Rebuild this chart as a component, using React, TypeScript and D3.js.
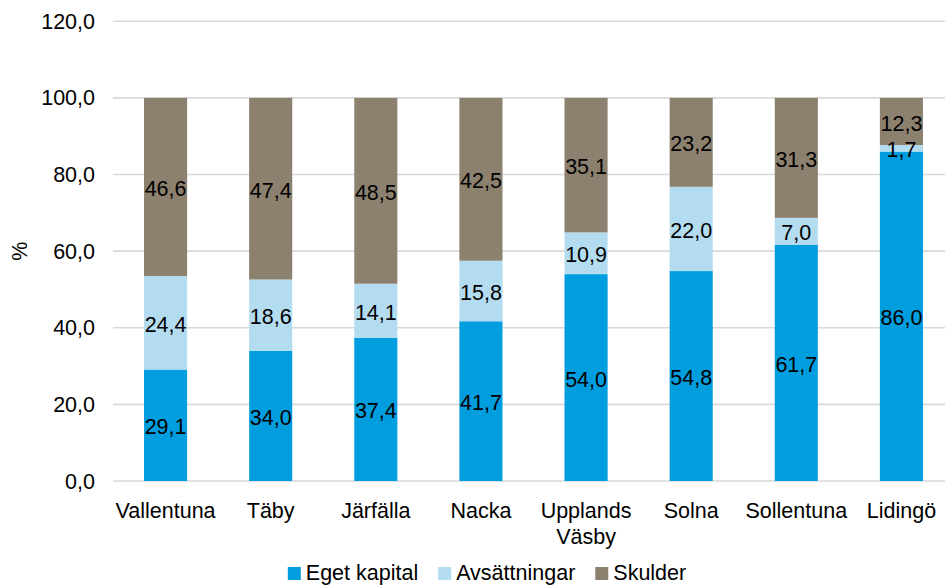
import React, { useEffect, useRef } from "react";
import * as d3 from "d3";

const categories = ["Vallentuna", "Täby", "Järfälla", "Nacka", "Upplands Väsby", "Solna", "Sollentuna", "Lidingö"];
const egetKapital = [29.1, 34.0, 37.4, 41.7, 54.0, 54.8, 61.7, 86.0];
const avsattningar = [24.4, 18.6, 14.1, 15.8, 10.9, 22.0, 7.0, 1.7];
const skulder = [46.6, 47.4, 48.5, 42.5, 35.1, 23.2, 31.3, 12.3];
const seriesNames = ["Eget kapital", "Avsättningar", "Skulder"];
const seriesColors = ["#009ddf", "#b4dcf0", "#8c806f"];
const yTicks = [0, 20, 40, 60, 80, 100, 120];

const W = 945;
const H = 585;
const FONT = "'Liberation Sans', Arial, sans-serif";
const FS = 21.5;

export default function App() {
  const ref = useRef<SVGSVGElement | null>(null);

  useEffect(() => {
    const svg = d3.select(ref.current);
    svg.selectAll("*").remove();

    const x = d3.scaleBand<string>().domain(categories).range([113, 954]).paddingInner(0.59).paddingOuter(0.295);
    const y = d3.scaleLinear().domain([0, 120]).range([481, 21.3]);

    const fmt = (v: number) => v.toFixed(1).replace(".", ",");

    // gridlines
    svg.append("g").selectAll("line").data(yTicks).join("line")
      .attr("x1", 113).attr("x2", W)
      .attr("y1", d => y(d)).attr("y2", d => y(d))
      .attr("stroke", "#d9d9d9").attr("stroke-width", 1.6);

    // y tick labels
    svg.append("g").selectAll("text").data(yTicks).join("text")
      .attr("x", 95).attr("y", d => y(d)).attr("dy", "0.35em")
      .attr("text-anchor", "end").attr("font-family", FONT).attr("font-size", FS)
      .attr("fill", "#000").text(d => fmt(d));

    // y axis title
    svg.append("text")
      .attr("transform", `translate(27,${(y(0) + y(120)) / 2}) rotate(-90)`)
      .attr("text-anchor", "middle").attr("font-family", FONT).attr("font-size", FS)
      .text("%");

    const rows = categories.map((c, i) => ({
      cat: c,
      s0: egetKapital[i],
      s1: avsattningar[i],
      s2: skulder[i],
    }));
    const stack = d3.stack<any>().keys(["s0", "s1", "s2"]);
    const stacked = stack(rows);

    const layers = svg.append("g").selectAll("g").data(stacked).join("g")
      .attr("fill", (_d, i) => seriesColors[i]);
    layers.selectAll("rect").data(d => d).join("rect")
      .attr("x", (d: any) => x(d.data.cat)!)
      .attr("width", x.bandwidth())
      .attr("y", (d: any) => y(Math.min(d[1], 100)))
      .attr("height", (d: any) => y(d[0]) - y(Math.min(d[1], 100)));

    // data labels
    const labels = svg.append("g");
    stacked.forEach((layer) => {
      layer.forEach((d: any) => {
        const v = d[1] - d[0];
        labels.append("text")
          .attr("x", x(d.data.cat)! + x.bandwidth() / 2)
          .attr("y", y((d[0] + Math.min(d[1], 100)) / 2) + 1.5)
          .attr("dy", "0.35em")
          .attr("text-anchor", "middle").attr("font-family", FONT).attr("font-size", FS)
          .attr("fill", "#000").text(fmt(v));
      });
    });

    // category labels
    const cat = svg.append("g");
    categories.forEach((c) => {
      const words = c.split(" ");
      const t = cat.append("text")
        .attr("text-anchor", "middle").attr("font-family", FONT).attr("font-size", FS)
        .attr("fill", "#000");
      words.forEach((w, k) => {
        t.append("tspan").attr("x", x(c)! + x.bandwidth() / 2).attr("y", 518 + k * 26).text(w);
      });
    });

    // legend
    const lg = svg.append("g");
    const items = seriesNames.map((n, i) => {
      const g = lg.append("g");
      g.append("rect").attr("width", 13).attr("height", 13).attr("y", 567).attr("fill", seriesColors[i]);
      const t = g.append("text").attr("x", 18).attr("y", 580).attr("font-family", FONT).attr("font-size", FS).text(n);
      const w = (t.node() as SVGTextElement).getComputedTextLength();
      return { g, w: 18 + w };
    });
    const gap = 20;
    const total = items.reduce((a, b) => a + b.w, 0) + gap * (items.length - 1);
    let cx = 487 - total / 2;
    items.forEach((it) => {
      it.g.attr("transform", `translate(${cx},0)`);
      cx += it.w + gap;
    });
  }, []);

  return (
    <svg ref={ref} width={W} height={H} style={{ position: "absolute", left: 0, top: 0, background: "#fff" }} />
  );
}
